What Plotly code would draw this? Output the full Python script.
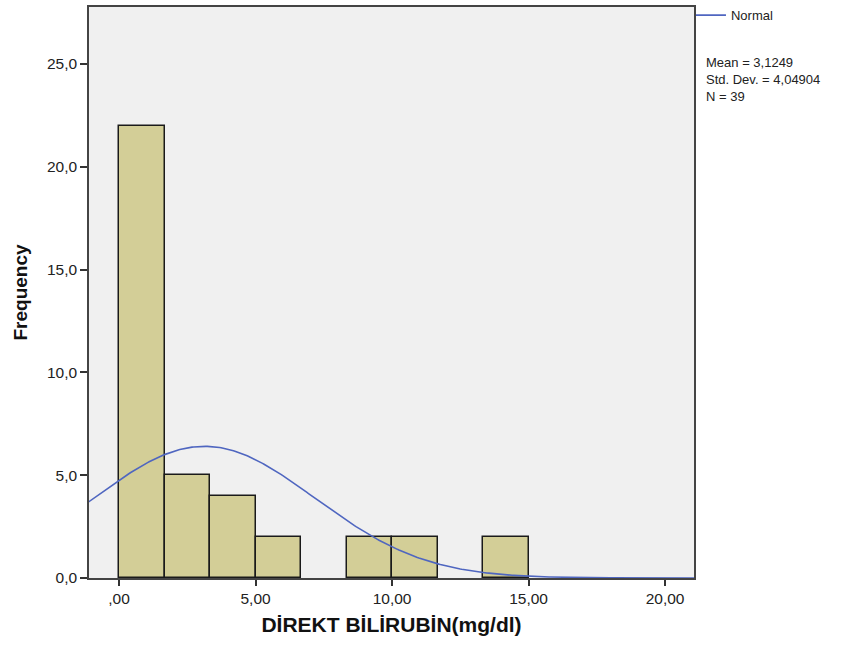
import numpy as np
import plotly.graph_objects as go

# Histogram of direct bilirubin (mg/dl)
bin_start = 0.0
bin_width = 15.0 / 9
counts = [22, 5, 4, 2, 0, 2, 2, 0, 2]

mean = 3.1249
std_dev = 4.04904
n_obs = 39

x_tickvals = [0, 5, 10, 15, 20]
x_ticktext = [",00", "5,00", "10,00", "15,00", "20,00"]
y_tickvals = [0, 5, 10, 15, 20, 25]
y_ticktext = ["0,0", "5,0", "10,0", "15,0", "20,0", "25,0"]

centers = [bin_start + bin_width * (i + 0.5) for i in range(len(counts))]
bar_heights = [c if c > 0 else None for c in counts]

# Fitted normal curve scaled to counts per bin
xs = np.linspace(-1.2, 21.2, 400)
ys = n_obs * bin_width * np.exp(-0.5 * ((xs - mean) / std_dev) ** 2) / (std_dev * np.sqrt(2 * np.pi))

font_family = "Liberation Sans, Arial, sans-serif"

fig = go.Figure()
fig.add_trace(go.Bar(
    x=centers, y=bar_heights, width=bin_width,
    marker=dict(color="#d3ce97", line=dict(color="#1a1a1a", width=1.5)),
    showlegend=False, hoverinfo="skip",
))
fig.add_trace(go.Scatter(
    x=xs, y=ys, mode="lines", name="Normal",
    line=dict(color="#4f66c0", width=1.6),
))

fig.update_layout(
    width=852, height=645,
    margin=dict(l=89, r=158, t=7, b=67, autoexpand=False),
    paper_bgcolor="white",
    plot_bgcolor="#f0f0f0",
    font=dict(family=font_family, color="#222"),
    bargap=0,
    legend=dict(
        x=0.995, xanchor="left", y=1.012, yanchor="top",
        font=dict(size=13, color="#222"),
        bgcolor="rgba(0,0,0,0)", borderwidth=0,
        itemwidth=30, tracegroupgap=0,
    ),
)

fig.update_xaxes(
    range=[-1.1, 21.06],
    tickmode="array", tickvals=x_tickvals, ticktext=x_ticktext,
    ticks="outside", ticklen=6, tickwidth=1.5, tickcolor="#333",
    showline=True, linecolor="#444", linewidth=1.5, mirror=True,
    showgrid=False, zeroline=False,
    tickfont=dict(size=15.5, color="#222"),
    title=dict(text="<b>DİREKT BİLİRUBİN(mg/dl)</b>", font=dict(size=21, color="#111"), standoff=11),
)
fig.update_yaxes(
    range=[0, 27.77],
    tickmode="array", tickvals=y_tickvals, ticktext=y_ticktext,
    ticks="outside", ticklen=7, tickwidth=1.5, tickcolor="#333",
    showline=True, linecolor="#444", linewidth=1.5, mirror=True,
    showgrid=False, zeroline=False,
    tickfont=dict(size=15.5, color="#222"),
    title=dict(text="<b>Frequency</b>", font=dict(size=19, color="#111"), standoff=14),
)

mean_txt = f"{mean:.4f}".replace(".", ",")
sd_txt = f"{std_dev:.5f}".replace(".", ",")
fig.add_annotation(
    xref="paper", yref="paper", x=1.017, y=0.92, xanchor="left", yanchor="top",
    text=f"Mean = {mean_txt}<br>Std. Dev. = {sd_txt}<br>N = {n_obs}",
    align="left", showarrow=False,
    font=dict(size=13, color="#222", family=font_family),
)

fig.write_html("out.html")
